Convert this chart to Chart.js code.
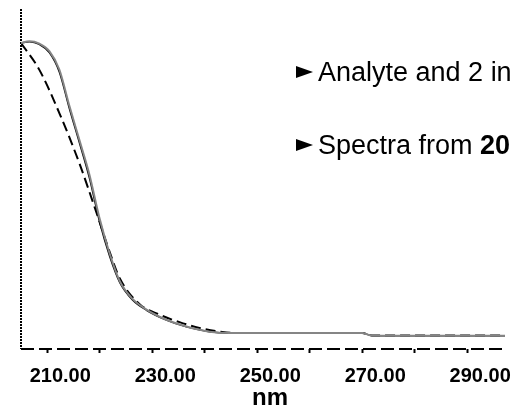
<!DOCTYPE html>
<html><head><meta charset="utf-8">
<script src="https://cdn.jsdelivr.net/npm/chart.js"></script>
<style>
html,body{margin:0;padding:0;background:#fff;overflow:hidden}
#wrap{position:relative;width:511px;height:409px;overflow:hidden}
canvas{position:absolute;left:0;top:0}
.b{position:absolute;font-family:'Liberation Sans',Arial,sans-serif;font-size:27px;line-height:27px;white-space:nowrap;color:#000}
.tri{position:absolute;width:0;height:0;border-top:6.5px solid transparent;border-bottom:6.5px solid transparent;border-left:17px solid #000}
#nm{position:absolute;font-family:'Liberation Sans',Arial,sans-serif;font-weight:bold;font-size:24px;line-height:24px;white-space:nowrap;color:#000;width:80px;text-align:center}
</style>
</head><body>
<div id="wrap">
<canvas id="c" width="511" height="409"></canvas>
<div class="tri" style="left:296px;top:65.5px"></div>
<div class="b" id="l1" style="left:318px;top:58.5px"></div>
<div class="tri" style="left:296px;top:138.5px"></div>
<div class="b" id="l2" style="left:318px;top:132px"></div>
<div id="nm" style="left:230px;top:385px"></div>
</div>
<script>
// ---- data ----
const solidNm    = [205.0, 206.6, 208.5, 210.4, 212.3, 214.2, 216.1, 218.0, 220.0, 221.9, 223.8, 226.2, 228.9, 232.7, 236.5, 240.9, 244.7, 270.0, 271.9, 297.2];
const solidBlack = [0.900, 0.904, 0.896, 0.872, 0.815, 0.708, 0.608, 0.505, 0.372, 0.272, 0.196, 0.145, 0.114, 0.085, 0.065, 0.051, 0.047, 0.047, 0.039, 0.039];
const solidGray  = [0.900, 0.905, 0.898, 0.876, 0.822, 0.716, 0.616, 0.515, 0.382, 0.280, 0.200, 0.148, 0.116, 0.086, 0.066, 0.051, 0.047, 0.047, 0.039, 0.039];
const dashedNm   = [205.0, 208.5, 212.3, 216.1, 219.4, 221.9, 223.8, 227.6, 231.4, 235.2, 239.0, 243.4, 246.6, 270.0, 271.9, 297.2];
const dashedVals = [0.900, 0.821, 0.694, 0.547, 0.400, 0.285, 0.208, 0.132, 0.101, 0.079, 0.062, 0.050, 0.047, 0.047, 0.040, 0.040];
const tickValues = [210, 220, 230, 240, 250, 260, 270, 280, 290];
const tickLabels = ['210.00', '', '230.00', '', '250.00', '', '270.00', '', '290.00'];
const xTitle = 'nm';
const bullet1 = 'Analyte and 2 in';
const bullet2a = 'Spectra from ';
const bullet2b = '20';

document.getElementById('l1').textContent = bullet1;
const l2 = document.getElementById('l2');
l2.appendChild(document.createTextNode(bullet2a));
const bEl = document.createElement('b'); bEl.textContent = bullet2b; l2.appendChild(bEl);
document.getElementById('nm').textContent = xTitle;

const pts = (xs, ys) => xs.map((x, i) => ({x: x, y: ys[i]}));

// dashed / dotted axis lines along the scale edges
const axisLines = {
  id: 'axisLines',
  beforeDatasetsDraw(chart) {
    const ctx = chart.ctx, a = chart.chartArea;
    ctx.save();
    ctx.strokeStyle = '#000';
    ctx.lineWidth = 2;
    ctx.setLineDash([2, 1]);
    ctx.beginPath(); ctx.moveTo(a.left, a.top); ctx.lineTo(a.left, a.bottom); ctx.stroke();
    ctx.setLineDash([13, 5]);
    ctx.beginPath(); ctx.moveTo(a.left, a.bottom); ctx.lineTo(a.right + 1, a.bottom); ctx.stroke();
    ctx.restore();
  }
};

new Chart(document.getElementById('c'), {
  type: 'line',
  data: {
    datasets: [
      {data: pts(solidNm, solidGray), borderColor: '#858585', borderWidth: 2, pointRadius: 0, fill: false, cubicInterpolationMode: 'monotone'},
      {data: pts(solidNm, solidBlack), borderColor: '#000', borderWidth: 1.5, pointRadius: 0, fill: false, cubicInterpolationMode: 'monotone'},
      {data: pts(dashedNm, dashedVals), borderColor: '#000', borderWidth: 2, borderDash: [10, 5], pointRadius: 0, fill: false, cubicInterpolationMode: 'monotone'}
    ]
  },
  plugins: [axisLines],
  options: {
    responsive: false,
    animation: false,
    devicePixelRatio: 1,
    layout: {padding: {top: 9, right: 6, left: 0, bottom: 0}},
    plugins: {legend: {display: false}, tooltip: {enabled: false}},
    scales: {
      x: {
        type: 'linear', min: 205, max: 297.2,
        afterBuildTicks: (ax) => { ax.ticks = tickValues.map(v => ({value: v})); },
        afterFit: (s) => { s.height = 60; },
        ticks: {
          autoSkip: false, maxRotation: 0, padding: 11, labelOffset: 13, color: '#000',
          font: {family: "'Liberation Sans', Arial, sans-serif", size: 20, weight: 'bold'},
          callback: (v, i) => tickLabels[i]
        },
        grid: {display: true, drawOnChartArea: false, drawTicks: true, tickLength: 4, tickWidth: 2, tickColor: '#000'},
        border: {display: false}
      },
      y: {
        min: 0, max: 1,
        afterFit: (s) => { s.width = 21; },
        ticks: {display: false},
        grid: {display: false},
        border: {display: false}
      }
    }
  }
});
</script>
</body></html>
